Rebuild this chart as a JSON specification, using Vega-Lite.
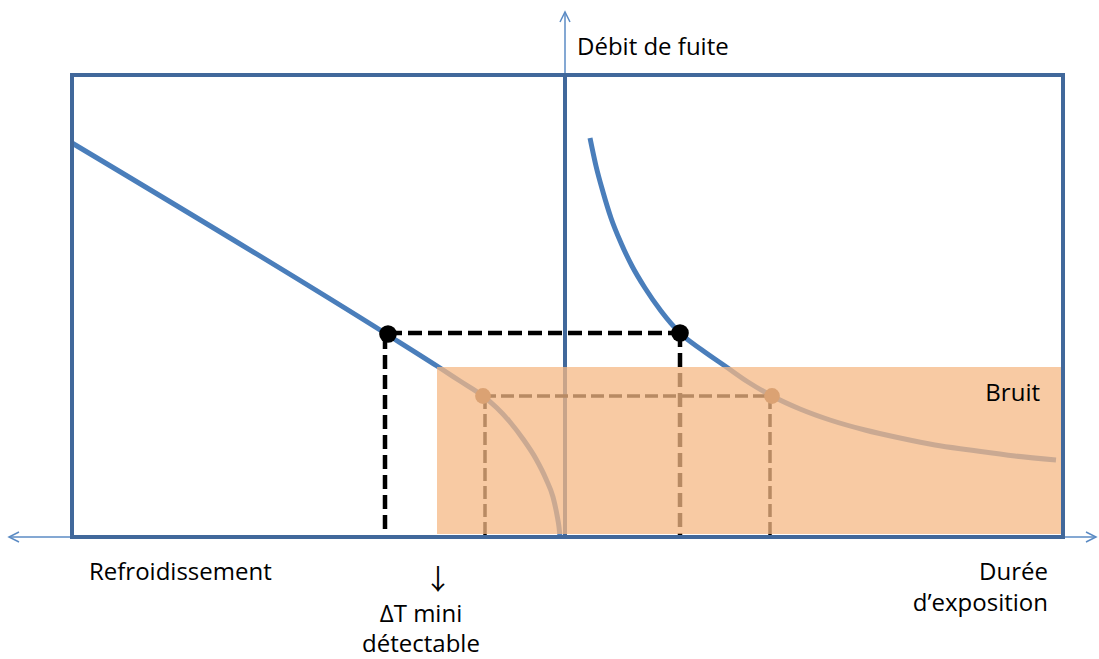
{
  "$schema": "https://vega.github.io/schema/vega-lite/v6.json",
  "width": 1099,
  "height": 659,
  "autosize": {"type": "fit", "contains": "padding"},
  "padding": 0,
  "background": "white",
  "config": {"view": {"stroke": null}},
  "datasets": {
    "axisLines": [
      {"part": "Refroidissement / Durée d'exposition", "x": -556, "y": 0, "x2": 531, "y2": 0},
      {"part": "Débit de fuite", "x": 0, "y": 0, "x2": 0, "y2": 525}
    ],
    "innerAxis": [
      {"part": "Débit de fuite", "x": 0, "y": 0, "x2": 0, "y2": 462}
    ],
    "curves": [
      {"curve": "refroidissement", "x": -493, "y": 394},
      {"curve": "refroidissement", "x": -177, "y": 202},
      {"curve": "refroidissement", "x": -128, "y": 171},
      {"curve": "refroidissement", "x": -105, "y": 156},
      {"curve": "refroidissement", "x": -82, "y": 141},
      {"curve": "refroidissement", "x": -68, "y": 129},
      {"curve": "refroidissement", "x": -55, "y": 115},
      {"curve": "refroidissement", "x": -42, "y": 98},
      {"curve": "refroidissement", "x": -29, "y": 78},
      {"curve": "refroidissement", "x": -19, "y": 58},
      {"curve": "refroidissement", "x": -12, "y": 40},
      {"curve": "refroidissement", "x": -8, "y": 22},
      {"curve": "refroidissement", "x": -6, "y": 10},
      {"curve": "refroidissement", "x": -5, "y": 0},
      {"curve": "exposition", "x": 25, "y": 399},
      {"curve": "exposition", "x": 31, "y": 371},
      {"curve": "exposition", "x": 38, "y": 345},
      {"curve": "exposition", "x": 46, "y": 319},
      {"curve": "exposition", "x": 56, "y": 294},
      {"curve": "exposition", "x": 67, "y": 271},
      {"curve": "exposition", "x": 80, "y": 249},
      {"curve": "exposition", "x": 96, "y": 226},
      {"curve": "exposition", "x": 115, "y": 204},
      {"curve": "exposition", "x": 137, "y": 187},
      {"curve": "exposition", "x": 160, "y": 171},
      {"curve": "exposition", "x": 183, "y": 155},
      {"curve": "exposition", "x": 207, "y": 141},
      {"curve": "exposition", "x": 235, "y": 128},
      {"curve": "exposition", "x": 265, "y": 117},
      {"curve": "exposition", "x": 300, "y": 107},
      {"curve": "exposition", "x": 335, "y": 99},
      {"curve": "exposition", "x": 370, "y": 92},
      {"curve": "exposition", "x": 405, "y": 87},
      {"curve": "exposition", "x": 450, "y": 81},
      {"curve": "exposition", "x": 491, "y": 77}
    ],
    "guides": [
      {"x": -177, "y": 204, "x2": 115, "y2": 204},
      {"x": -180, "y": 202, "x2": -180, "y2": 0},
      {"x": 115, "y": 204, "x2": 115, "y2": 0}
    ],
    "noiseGuides": [
      {"x": -82, "y": 141, "x2": 207, "y2": 141},
      {"x": -80, "y": 141, "x2": -80, "y2": 0},
      {"x": 205, "y": 141, "x2": 205, "y2": 0}
    ],
    "points": [
      {"x": -177, "y": 203},
      {"x": 115, "y": 204}
    ],
    "noisePoints": [
      {"x": -82, "y": 141},
      {"x": 207, "y": 141}
    ],
    "noise": [
      {"label": "Bruit", "x": -128, "y": 3, "x2": 498, "y2": 170}
    ],
    "frame": [
      {"x": -493, "y": 0, "x2": 498, "y2": 462}
    ],
    "tipUp": [{"x": 0, "y": 525}],
    "tipRight": [{"x": 531, "y": 0}],
    "tipLeft": [{"x": -556, "y": 0}],
    "labelsLeft": [
      {"label": "Débit de fuite", "x": 12, "y": 482},
      {"label": "Refroidissement", "x": -476, "y": -43}
    ],
    "labelsRight": [
      {"label": "Durée", "x": 483, "y": -43},
      {"label": "d’exposition", "x": 483, "y": -74},
      {"label": "Bruit", "x": 475, "y": 136}
    ],
    "labelsCenter": [
      {"label": "ΔT mini", "x": -144, "y": -85},
      {"label": "détectable", "x": -144, "y": -115}
    ],
    "arrowLabel": [
      {"label": "↓", "x": -127, "y": -53}
    ]
  },
  "encoding": {
    "x": {"field": "x", "type": "quantitative", "scale": {"domain": [-565, 534], "nice": false, "zero": false}, "axis": null},
    "y": {"field": "y", "type": "quantitative", "scale": {"domain": [-122, 537], "nice": false, "zero": false}, "axis": null}
  },
  "layer": [
    {
      "data": {"name": "axisLines"},
      "mark": {"type": "rule", "color": "#5b8bc4", "strokeWidth": 1.5},
      "encoding": {"x2": {"field": "x2"}, "y2": {"field": "y2"}}
    },
    {
      "data": {"name": "innerAxis"},
      "mark": {"type": "rule", "color": "#41689b", "strokeWidth": 4},
      "encoding": {"x2": {"field": "x2"}, "y2": {"field": "y2"}}
    },
    {
      "data": {"name": "curves"},
      "mark": {"type": "line", "interpolate": "monotone", "color": "#4a7ebb", "strokeWidth": 5},
      "encoding": {"detail": {"field": "curve"}}
    },
    {
      "data": {"name": "guides"},
      "mark": {"type": "rule", "color": "#000000", "strokeWidth": 4.5, "strokeDash": [14, 6]},
      "encoding": {"x2": {"field": "x2"}, "y2": {"field": "y2"}}
    },
    {
      "data": {"name": "noiseGuides"},
      "mark": {"type": "rule", "color": "#000000", "strokeWidth": 3.5, "strokeDash": [13, 5]},
      "encoding": {"x2": {"field": "x2"}, "y2": {"field": "y2"}}
    },
    {
      "data": {"name": "points"},
      "mark": {"type": "point", "shape": "circle", "filled": true, "color": "#000000", "opacity": 1, "size": 310}
    },
    {
      "data": {"name": "noisePoints"},
      "mark": {"type": "point", "shape": "circle", "filled": true, "color": "#8a6040", "opacity": 1, "size": 250}
    },
    {
      "data": {"name": "noise"},
      "mark": {"type": "rect", "color": "#f5b884", "opacity": 0.75},
      "encoding": {"x2": {"field": "x2"}, "y2": {"field": "y2"}}
    },
    {
      "data": {"name": "frame"},
      "mark": {"type": "rect", "fillOpacity": 0, "stroke": "#41689b", "strokeWidth": 4},
      "encoding": {"x2": {"field": "x2"}, "y2": {"field": "y2"}}
    },
    {
      "data": {"name": "tipUp"},
      "mark": {"type": "point", "shape": "M-1,2L0,0L1,2", "filled": false, "stroke": "#5b8bc4", "strokeWidth": 1.5, "size": 100, "opacity": 1}
    },
    {
      "data": {"name": "tipRight"},
      "mark": {"type": "point", "shape": "M-2,-1L0,0L-2,1", "filled": false, "stroke": "#5b8bc4", "strokeWidth": 1.5, "size": 100, "opacity": 1}
    },
    {
      "data": {"name": "tipLeft"},
      "mark": {"type": "point", "shape": "M2,-1L0,0L2,1", "filled": false, "stroke": "#5b8bc4", "strokeWidth": 1.5, "size": 100, "opacity": 1}
    },
    {
      "data": {"name": "labelsLeft"},
      "mark": {"type": "text", "align": "left", "baseline": "alphabetic", "font": "Open Sans", "fontSize": 24, "color": "#000000"},
      "encoding": {"text": {"field": "label"}}
    },
    {
      "data": {"name": "labelsRight"},
      "mark": {"type": "text", "align": "right", "baseline": "alphabetic", "font": "Open Sans", "fontSize": 24, "color": "#000000"},
      "encoding": {"text": {"field": "label"}}
    },
    {
      "data": {"name": "labelsCenter"},
      "mark": {"type": "text", "align": "center", "baseline": "alphabetic", "font": "Open Sans", "fontSize": 24, "color": "#000000"},
      "encoding": {"text": {"field": "label"}}
    },
    {
      "data": {"name": "arrowLabel"},
      "mark": {"type": "text", "align": "center", "baseline": "alphabetic", "font": "Noto Sans CJK JP", "fontSize": 28, "color": "#000000"},
      "encoding": {"text": {"field": "label"}}
    }
  ]
}
